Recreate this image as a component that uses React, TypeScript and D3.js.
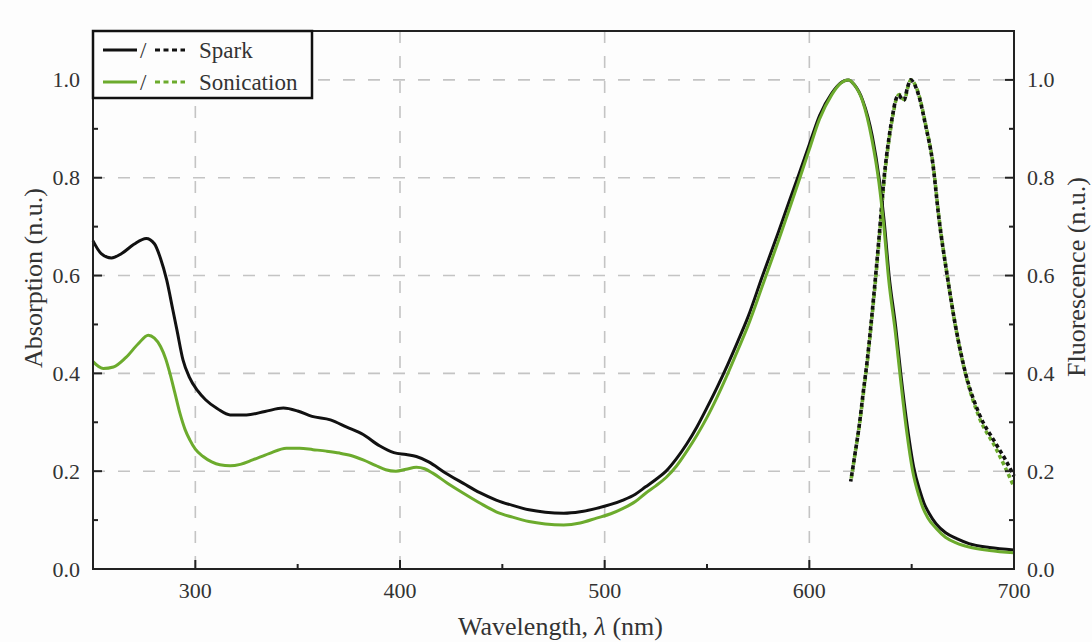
import { useMemo } from "react";
import * as d3 from "d3";

const WIDTH = 1092;
const HEIGHT = 642;
const MARGIN = { top: 31, right: 78, bottom: 73, left: 93 };

const BLACK = "#111111";
const GREEN = "#6cab2d";
const TEXT = "#333333";
const FONT = "'Liberation Serif', 'Times New Roman', serif";

// absorption, spark (black solid)
const sparkAbsX = [
  250, 254, 259, 264, 270, 276, 280, 283, 286, 289, 291, 294, 297, 301, 305, 311, 317, 325, 334, 343,
  350, 357, 366, 374, 382, 390, 397, 403, 408, 414, 422, 431, 439, 447, 455, 463, 471, 480, 488, 496,
  503, 509, 515, 520, 525, 530, 535, 540, 545, 550, 555, 560, 565, 570, 577, 585, 590, 595, 600, 605,
  611, 615, 619, 622, 626, 630.8, 634.1, 636.5, 639, 642.2, 644.7, 647.9, 651, 654, 656, 658.5, 662,
  666.6, 672, 678, 688, 700,
];
const sparkAbsY = [
  0.671, 0.645, 0.636, 0.645, 0.664, 0.676, 0.665, 0.635, 0.591, 0.53, 0.489, 0.427, 0.393, 0.365,
  0.346, 0.327, 0.315, 0.315, 0.322, 0.329, 0.323, 0.312, 0.305, 0.29, 0.275, 0.252, 0.238, 0.234,
  0.23, 0.219, 0.197, 0.175, 0.156, 0.141, 0.13, 0.121, 0.116, 0.114, 0.117, 0.124, 0.132, 0.141,
  0.153, 0.168, 0.183, 0.2, 0.225, 0.255, 0.29, 0.33, 0.372, 0.417, 0.465, 0.515, 0.598, 0.69, 0.75,
  0.808, 0.868, 0.927, 0.973, 0.993, 1.0, 0.99, 0.959, 0.884, 0.799, 0.714, 0.599, 0.495, 0.399, 0.291,
  0.208, 0.16, 0.135, 0.114, 0.092, 0.074, 0.062, 0.052, 0.044, 0.039,
];

// absorption, sonication (green solid)
const sonicAbsX = [
  250, 255, 260, 266, 272, 277, 280, 283, 285.5, 287.6, 290, 292.5, 295, 297.3, 300, 303.8, 308, 312,
  317, 322, 328, 336, 344.5, 351, 357.5, 364, 370.5, 376, 382, 388, 393, 398, 403, 408, 412, 416, 423,
  431, 439, 447, 455, 463, 471, 480, 488, 496, 503, 509, 515, 520, 525, 530, 535, 540, 545, 550, 555,
  560, 565, 570, 577, 585, 590, 595, 600, 605, 611, 615, 619, 622, 626, 630.5, 634, 636.3, 638.8, 642,
  644.5, 647.5, 650.5, 653.5, 655.5, 658, 662, 666.5, 672, 678, 688, 700,
];
const sonicAbsY = [
  0.424, 0.41, 0.413, 0.432, 0.46, 0.478, 0.472, 0.455, 0.43, 0.4, 0.36, 0.318, 0.285, 0.264, 0.245,
  0.23, 0.219, 0.213, 0.211, 0.214, 0.223, 0.236, 0.247, 0.247, 0.244, 0.241, 0.237, 0.232, 0.223,
  0.212, 0.203, 0.2, 0.204, 0.208, 0.205, 0.196, 0.176, 0.155, 0.135, 0.117, 0.106, 0.097, 0.092,
  0.09, 0.094, 0.104, 0.113, 0.124, 0.138, 0.155, 0.17, 0.187, 0.21, 0.24, 0.273, 0.31, 0.352, 0.398,
  0.447, 0.497, 0.578, 0.672, 0.733, 0.795, 0.858, 0.92, 0.97, 0.992, 1.0, 0.99, 0.957, 0.88, 0.79,
  0.705, 0.59, 0.485, 0.39, 0.283, 0.2, 0.15, 0.125, 0.104, 0.083, 0.065, 0.053, 0.045, 0.038, 0.033,
];

// fluorescence (dashed), right axis
const sparkFlX = [
  620.2, 622.3, 624.3, 626.3, 628.3, 630, 631.6, 634.1, 636.5, 639, 641, 642.2, 643.8, 645, 646.3,
  648, 649.5, 651.5, 653.6, 656.9, 660.1, 663.4, 667.4, 671.5, 676.4, 682.9, 691, 696, 700,
];
const sparkFlY = [
  0.179, 0.235, 0.291, 0.36, 0.427, 0.495, 0.564, 0.68, 0.799, 0.884, 0.935, 0.959, 0.969, 0.962,
  0.959, 0.985, 1.0, 0.99, 0.966, 0.905, 0.836, 0.714, 0.599, 0.495, 0.399, 0.318, 0.257, 0.222, 0.19,
];
const sonicFlX = [
  620.5, 622.5, 624.5, 626.5, 628.5, 630.2, 631.8, 634.3, 636.7, 639.2, 641.2, 642.4, 644, 645.2,
  646.5, 648.2, 649.7, 651.7, 653.8, 657.1, 660.3, 663.6, 667.6, 671.7, 676.6, 683, 691, 696, 700,
];
const sonicFlY = [
  0.185, 0.24, 0.295, 0.362, 0.43, 0.498, 0.566, 0.682, 0.8, 0.885, 0.936, 0.96, 0.97, 0.963, 0.96,
  0.986, 1.0, 0.99, 0.965, 0.903, 0.832, 0.71, 0.594, 0.49, 0.394, 0.31, 0.248, 0.205, 0.168,
];

const xTicks = [300, 400, 500, 600, 700];
const xMinor = [250, 350, 450, 550, 650];
const yTicks = [0, 0.2, 0.4, 0.6, 0.8, 1.0];
const yMinor = [0.1, 0.3, 0.5, 0.7, 0.9];

type Pt = [number, number];
const zip = (xs: number[], ys: number[]): Pt[] => xs.map((x, i) => [x, ys[i]]);

const App = () => {
  const boundsWidth = WIDTH - MARGIN.left - MARGIN.right;
  const boundsHeight = HEIGHT - MARGIN.top - MARGIN.bottom;

  const xScale = useMemo(() => d3.scaleLinear().domain([250, 700]).range([0, boundsWidth]), []);
  const yScale = useMemo(() => d3.scaleLinear().domain([0, 1.1]).range([boundsHeight, 0]), []);

  const line = d3
    .line<Pt>()
    .x((d) => xScale(d[0]))
    .y((d) => yScale(d[1]))
    .curve(d3.curveMonotoneX);

  const grid = (
    <g stroke="#c4c4c4" strokeWidth={1.6} strokeDasharray="12 13">
      {xTicks.slice(0, -1).map((v) => (
        <line key={"gx" + v} x1={xScale(v)} x2={xScale(v)} y1={0} y2={boundsHeight} />
      ))}
      {yTicks.slice(1).map((v) => (
        <line key={"gy" + v} x1={0} x2={boundsWidth} y1={yScale(v)} y2={yScale(v)} />
      ))}
    </g>
  );

  const ticks = (
    <g stroke="#222" strokeWidth={2}>
      {xTicks.map((v) => (
        <line key={"tx" + v} x1={xScale(v)} x2={xScale(v)} y1={boundsHeight} y2={boundsHeight - 9} />
      ))}
      {xMinor.map((v) => (
        <line key={"mx" + v} x1={xScale(v)} x2={xScale(v)} y1={boundsHeight} y2={boundsHeight - 5} />
      ))}
      {yTicks.map((v) => (
        <g key={"ty" + v}>
          <line x1={0} x2={9} y1={yScale(v)} y2={yScale(v)} />
          <line x1={boundsWidth} x2={boundsWidth - 9} y1={yScale(v)} y2={yScale(v)} />
        </g>
      ))}
      {yMinor.map((v) => (
        <g key={"my" + v}>
          <line x1={0} x2={5} y1={yScale(v)} y2={yScale(v)} />
          <line x1={boundsWidth} x2={boundsWidth - 5} y1={yScale(v)} y2={yScale(v)} />
        </g>
      ))}
    </g>
  );

  const tickLabels = (
    <g fill={TEXT} fontFamily={FONT} fontSize={22}>
      {xTicks.map((v) => (
        <text key={"lx" + v} x={xScale(v)} y={boundsHeight + 29} textAnchor="middle">
          {v}
        </text>
      ))}
      {yTicks.map((v) => (
        <g key={"ly" + v}>
          <text x={-13} y={yScale(v)} textAnchor="end" dominantBaseline="central">
            {v.toFixed(1)}
          </text>
          <text x={boundsWidth + 13} y={yScale(v)} textAnchor="start" dominantBaseline="central">
            {v.toFixed(1)}
          </text>
        </g>
      ))}
    </g>
  );

  return (
    <div style={{ position: "absolute", left: 0, top: 0 }}>
      <svg width={WIDTH} height={HEIGHT} style={{ display: "block" }}>
        <rect width={WIDTH} height={HEIGHT} fill="#fdfdfd" />
        <g transform={`translate(${MARGIN.left},${MARGIN.top})`}>
          {grid}
          <path d={line(zip(sonicFlX, sonicFlY)) || ""} fill="none" stroke={GREEN} strokeWidth={3.6} strokeDasharray="4 3" />
          <path d={line(zip(sparkFlX, sparkFlY)) || ""} fill="none" stroke={BLACK} strokeWidth={3.6} strokeDasharray="4 3" strokeDashoffset={1.5} />
          <path d={line(zip(sparkAbsX, sparkAbsY)) || ""} fill="none" stroke={BLACK} strokeWidth={3} />
          <path d={line(zip(sonicAbsX, sonicAbsY)) || ""} fill="none" stroke={GREEN} strokeWidth={3} />
          {ticks}
          <rect x={0} y={0} width={boundsWidth} height={boundsHeight} fill="none" stroke="#222" strokeWidth={2} />
          {tickLabels}

          {/* legend */}
          <g>
            <rect x={0} y={0} width={219} height={67} fill="#fdfdfd" stroke="#111" strokeWidth={2.5} />
            <line x1={10} x2={44} y1={19} y2={19} stroke={BLACK} strokeWidth={3} />
            <line x1={62} x2={92} y1={19} y2={19} stroke={BLACK} strokeWidth={3} strokeDasharray="5 3.5" />
            <line x1={10} x2={44} y1={51} y2={51} stroke={GREEN} strokeWidth={3} />
            <line x1={62} x2={92} y1={51} y2={51} stroke={GREEN} strokeWidth={3} strokeDasharray="5 3.5" />
            <g fill={TEXT} fontFamily={FONT} fontSize={23}>
              <text x={47} y={19} dominantBaseline="central">/</text>
              <text x={47} y={51} dominantBaseline="central">/</text>
              <text x={106} y={19} dominantBaseline="central">Spark</text>
              <text x={106} y={51} dominantBaseline="central">Sonication</text>
            </g>
          </g>
        </g>

        <g fill={TEXT} fontFamily={FONT} fontSize={26}>
          <text x={MARGIN.left + boundsWidth / 2 + 7} y={635} textAnchor="middle">
            Wavelength, <tspan fontStyle="italic">λ</tspan> (nm)
          </text>
          <text transform="translate(42,278) rotate(-90)" textAnchor="middle">
            Absorption (n.u.)
          </text>
          <text transform="translate(1085,277) rotate(-90)" textAnchor="middle">
            Fluorescence (n.u.)
          </text>
        </g>
      </svg>
    </div>
  );
};

export default App;
